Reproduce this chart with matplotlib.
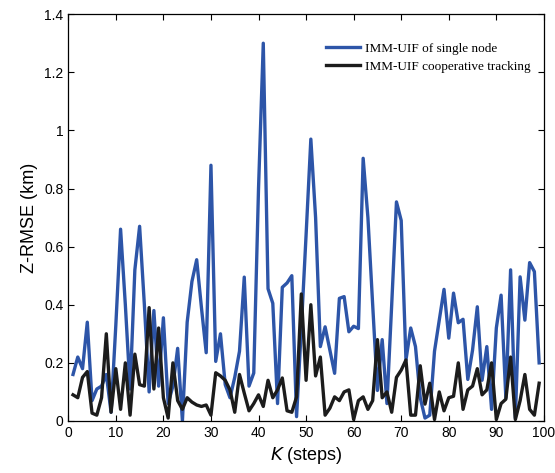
import matplotlib
matplotlib.use("Agg")
import matplotlib.pyplot as plt
import numpy as np

# time steps
steps = np.arange(1, 100)

# Z-RMSE of single node (km)
rmse_single = [0.16, 0.22, 0.18, 0.34, 0.07, 0.11, 0.12, 0.16, 0.03, 0.33,
               0.66, 0.40, 0.11, 0.52, 0.67, 0.40, 0.10, 0.38, 0.12, 0.355,
               0.06, 0.12, 0.25, 0.00, 0.34, 0.48, 0.555, 0.39, 0.235, 0.88,
               0.205, 0.30, 0.125, 0.08, 0.15, 0.24, 0.495, 0.12, 0.165, 0.80,
               1.30, 0.455, 0.405, 0.06, 0.46, 0.475, 0.50, 0.015, 0.32, 0.64,
               0.97, 0.70, 0.256, 0.324, 0.244, 0.164, 0.422, 0.428, 0.307, 0.326,
               0.318, 0.904, 0.70, 0.40, 0.105, 0.28, 0.06, 0.40, 0.754, 0.69,
               0.21, 0.32, 0.256, 0.08, 0.01, 0.02, 0.24, 0.347, 0.453, 0.285,
               0.44, 0.338, 0.35, 0.143, 0.244, 0.393, 0.14, 0.256, 0.04, 0.32,
               0.433, 0.08, 0.52, 0.01, 0.496, 0.347, 0.545, 0.514, 0.20]

# Z-RMSE of cooperative tracking (km)
rmse_coop = [0.09, 0.08, 0.15, 0.17, 0.027, 0.02, 0.08, 0.30, 0.03, 0.18,
             0.04, 0.20, 0.02, 0.23, 0.125, 0.12, 0.39, 0.11, 0.32, 0.08,
             0.01, 0.20, 0.07, 0.04, 0.08, 0.065, 0.055, 0.05, 0.055, 0.02,
             0.166, 0.155, 0.14, 0.107, 0.03, 0.16, 0.096, 0.035, 0.06, 0.09,
             0.05, 0.14, 0.08, 0.107, 0.148, 0.035, 0.03, 0.083, 0.437, 0.14,
             0.40, 0.155, 0.22, 0.02, 0.044, 0.083, 0.07, 0.10, 0.107, 0.005,
             0.07, 0.083, 0.04, 0.07, 0.28, 0.08, 0.10, 0.03, 0.15, 0.175,
             0.21, 0.02, 0.02, 0.19, 0.058, 0.13, 0.005, 0.10, 0.035, 0.08,
             0.085, 0.20, 0.04, 0.107, 0.12, 0.18, 0.09, 0.107, 0.20, 0.005,
             0.06, 0.075, 0.22, 0.005, 0.07, 0.16, 0.04, 0.02, 0.13]

plt.rcParams['font.family'] = ['Liberation Sans', 'DejaVu Sans']

fig = plt.figure(figsize=(5.55, 4.73), dpi=100)
ax = fig.add_axes([0.123, 0.110, 0.857, 0.860])

ax.plot(steps, rmse_single, color='#2d55a8', lw=2.4, label='IMM-UIF of single node')
ax.plot(steps, rmse_coop, color='#1c1c1c', lw=2.4, label='IMM-UIF cooperative tracking')

ax.set_xlim(0, 100)
ax.set_ylim(0, 1.4)
ax.set_xticks(np.arange(0, 101, 10))
ax.set_yticks(np.arange(0, 1.41, 0.2))
ax.yaxis.set_major_formatter(plt.FuncFormatter(lambda v, p: '%g' % round(v, 1)))
ax.tick_params(direction='in', top=True, right=True, length=4, width=0.8, labelsize=10)
for s in ax.spines.values():
    s.set_linewidth(0.9)

ax.set_xlabel(r'$\it{K}$ (steps)', fontsize=13)
ax.set_ylabel('Z-RMSE (km)', fontsize=13)

leg = ax.legend(loc='upper right', bbox_to_anchor=(0.998, 0.96), frameon=False,
                prop={'family': 'Liberation Serif', 'size': 9.5},
                handlelength=2.6, handletextpad=0.4, labelspacing=0.45)

fig.savefig('out.png', dpi=100)
